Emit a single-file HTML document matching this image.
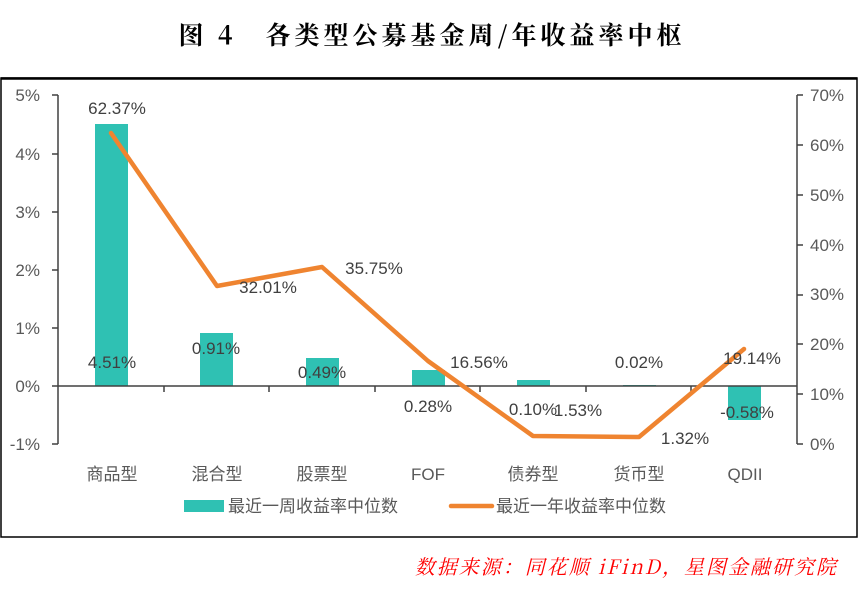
<!DOCTYPE html>
<html><head><meta charset="utf-8"><style>
body{margin:0;background:#fff;width:865px;height:585px;overflow:hidden}
text{font-family:"Liberation Sans","Noto Sans CJK SC",sans-serif}
</style></head><body>
<svg width="865" height="585" viewBox="0 0 865 585" xmlns="http://www.w3.org/2000/svg">
<text x="432" y="44" text-anchor="middle" font-size="25" font-weight="bold" fill="#000" style="font-family:'Noto Serif CJK SC',serif" letter-spacing="4">图 4　各类型公募基金周/年收益率中枢</text>
<rect x="1" y="78" width="856" height="459" fill="none" stroke="#000" stroke-width="1.5"/>
<line x1="1" y1="78.5" x2="857" y2="78.5" stroke="#000" stroke-width="2.5"/>
<g fill="#595959" font-size="17">
<text x="40" y="101" text-anchor="end">5%</text>
<text x="40" y="160" text-anchor="end">4%</text>
<text x="40" y="218" text-anchor="end">3%</text>
<text x="40" y="276" text-anchor="end">2%</text>
<text x="40" y="334" text-anchor="end">1%</text>
<text x="40" y="392" text-anchor="end">0%</text>
<text x="40" y="450" text-anchor="end">-1%</text>
<text x="810" y="101">70%</text>
<text x="810" y="151">60%</text>
<text x="810" y="201">50%</text>
<text x="810" y="251">40%</text>
<text x="810" y="300">30%</text>
<text x="810" y="350">20%</text>
<text x="810" y="400">10%</text>
<text x="810" y="450">0%</text>
</g>
<g stroke="#404040" stroke-width="1.5">
<line x1="58" y1="95" x2="58" y2="444"/>
<line x1="52" y1="95" x2="58" y2="95"/><line x1="52" y1="154" x2="58" y2="154"/><line x1="52" y1="212" x2="58" y2="212"/><line x1="52" y1="270" x2="58" y2="270"/><line x1="52" y1="328" x2="58" y2="328"/><line x1="52" y1="386" x2="58" y2="386"/><line x1="52" y1="444" x2="58" y2="444"/>
<line x1="797" y1="95" x2="797" y2="444"/>
<line x1="797" y1="95" x2="803" y2="95"/><line x1="797" y1="145" x2="803" y2="145"/><line x1="797" y1="195" x2="803" y2="195"/><line x1="797" y1="245" x2="803" y2="245"/><line x1="797" y1="295" x2="803" y2="295"/><line x1="797" y1="344" x2="803" y2="344"/><line x1="797" y1="394" x2="803" y2="394"/><line x1="797" y1="444" x2="803" y2="444"/>
</g>
<g fill="#2fc1b3">
<rect x="95" y="124" width="33" height="262"/>
<rect x="200" y="333" width="33" height="53"/>
<rect x="306" y="358" width="33" height="28"/>
<rect x="412" y="370" width="33" height="16"/>
<rect x="517" y="380" width="33" height="6"/>
<rect x="623" y="385" width="33" height="1"/>
<rect x="728" y="386" width="33" height="34"/>
</g>
<g stroke="#404040" stroke-width="1.5">
<line x1="58" y1="386" x2="797" y2="386"/>
<line x1="164" y1="386" x2="164" y2="392"/><line x1="269" y1="386" x2="269" y2="392"/><line x1="375" y1="386" x2="375" y2="392"/><line x1="480" y1="386" x2="480" y2="392"/><line x1="586" y1="386" x2="586" y2="392"/><line x1="691" y1="386" x2="691" y2="392"/>
</g>
<polyline points="111,133 217,286 322,267 428,361 533,436 639,437 744,349" fill="none" stroke="#ef8430" stroke-width="4.5" stroke-linejoin="round" stroke-linecap="round"/>
<g fill="#404040" font-size="17">
<text x="117" y="114" text-anchor="middle">62.37%</text>
<text x="268" y="293" text-anchor="middle">32.01%</text>
<text x="374" y="274" text-anchor="middle">35.75%</text>
<text x="479" y="368" text-anchor="middle">16.56%</text>
<text x="578" y="416" text-anchor="middle">1.53%</text>
<text x="685" y="444" text-anchor="middle">1.32%</text>
<text x="752" y="364" text-anchor="middle">19.14%</text>
<text x="112" y="368" text-anchor="middle">4.51%</text>
<text x="216" y="354" text-anchor="middle">0.91%</text>
<text x="322" y="378" text-anchor="middle">0.49%</text>
<text x="428" y="412" text-anchor="middle">0.28%</text>
<text x="533" y="415" text-anchor="middle">0.10%</text>
<text x="639" y="368" text-anchor="middle">0.02%</text>
<text x="747" y="418" text-anchor="middle">-0.58%</text>
</g>
<g fill="#595959" font-size="17">
<text x="112" y="480" text-anchor="middle">商品型</text>
<text x="217" y="480" text-anchor="middle">混合型</text>
<text x="322" y="480" text-anchor="middle">股票型</text>
<text x="428" y="480" text-anchor="middle">FOF</text>
<text x="533" y="480" text-anchor="middle">债券型</text>
<text x="639" y="480" text-anchor="middle">货币型</text>
<text x="745" y="480" text-anchor="middle">QDII</text>
<rect x="184" y="500" width="40" height="12" fill="#2fc1b3"/>
<text x="228" y="512">最近一周收益率中位数</text>
<line x1="451" y1="506" x2="492" y2="506" stroke="#ef8430" stroke-width="4.5" stroke-linecap="round"/>
<text x="496" y="512">最近一年收益率中位数</text>
</g>
<text x="838" y="574" text-anchor="end" fill="#ff0000" font-size="20" font-style="italic" letter-spacing="2" style="font-family:'Noto Serif CJK SC','Liberation Serif',serif">数据来源：同花顺 iFinD，星图金融研究院</text>
</svg>
</body></html>
